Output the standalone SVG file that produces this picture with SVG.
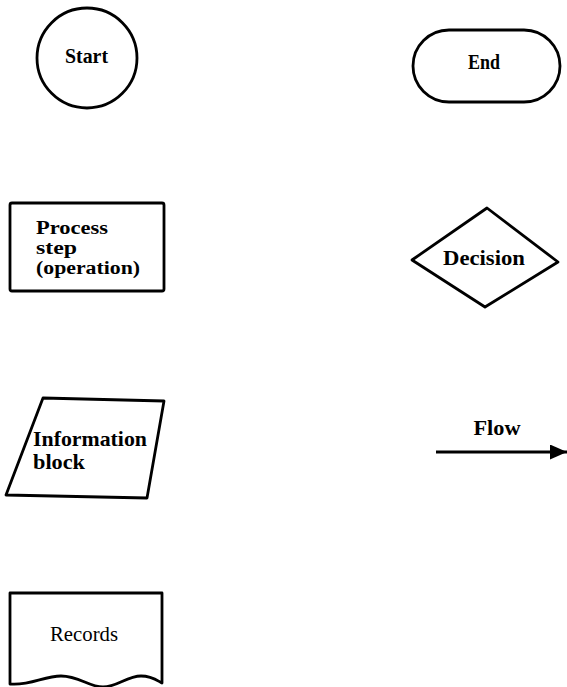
<svg xmlns="http://www.w3.org/2000/svg" width="567" height="687" viewBox="0 0 567 687">
<style>
.shape{fill:#fff;stroke:#000;stroke-width:2.8;stroke-linejoin:round}
.lbl{font-family:"Liberation Serif","Times New Roman",serif;font-weight:bold;font-size:21px;fill:#000}
.tight{font-size:18px}
.reg{font-family:"Liberation Serif","Times New Roman",serif;font-size:21px;fill:#000}
</style>
<defs>
<marker id="arrow" markerWidth="17" markerHeight="15" refX="17" refY="7.5" orient="auto" markerUnits="userSpaceOnUse">
<polygon points="0,0 17,7.5 0,15" fill="#000"/>
</marker>
</defs>
<rect width="567" height="687" fill="#fff"/>
<g id="start">
<circle class="shape" cx="87" cy="58" r="50"/>
<text class="lbl" x="86.5" y="63" text-anchor="middle" textLength="43" lengthAdjust="spacingAndGlyphs">Start</text>
</g>
<g id="end">
<rect class="shape" x="413" y="30" width="147" height="72" rx="36" ry="36"/>
<text class="lbl" x="484" y="69" text-anchor="middle" textLength="32" lengthAdjust="spacingAndGlyphs">End</text>
</g>
<g id="process">
<rect class="shape" x="10" y="203" width="154" height="88" rx="2"/>
<text class="lbl tight" x="36" y="234" textLength="72" lengthAdjust="spacingAndGlyphs">Process</text>
<text class="lbl tight" x="36" y="254" textLength="41" lengthAdjust="spacingAndGlyphs">step</text>
<text class="lbl tight" x="36" y="274" textLength="104" lengthAdjust="spacingAndGlyphs">(operation)</text>
</g>
<g id="decision">
<polygon class="shape" points="412,260 487,208 558,262 485,307"/>
<text class="lbl" x="484" y="265" text-anchor="middle" textLength="82" lengthAdjust="spacingAndGlyphs">Decision</text>
</g>
<g id="information">
<polygon class="shape" points="43,398 164,401 147,498 6,495"/>
<text class="lbl" x="33" y="446" textLength="114" lengthAdjust="spacingAndGlyphs">Information</text>
<text class="lbl" x="33" y="469" textLength="52" lengthAdjust="spacingAndGlyphs">block</text>
</g>
<g id="records">
<path class="shape" d="M10,684 L10,593 L162,593 L162,683 C158,681 152,676 141,676 C127,676 117,687 103,687 C89,687 79,676 61,676 C44,676 30,686 10,684 Z"/>
<text class="reg" x="84" y="641" text-anchor="middle" textLength="68" lengthAdjust="spacingAndGlyphs">Records</text>
</g>
<g id="flow-label">
<text class="lbl" x="497" y="435" text-anchor="middle" textLength="47" lengthAdjust="spacingAndGlyphs">Flow</text>
</g>
<g id="connectors">
<line x1="436" y1="452" x2="567" y2="452" stroke="#000" stroke-width="3" marker-end="url(#arrow)"/>
</g>
</svg>
